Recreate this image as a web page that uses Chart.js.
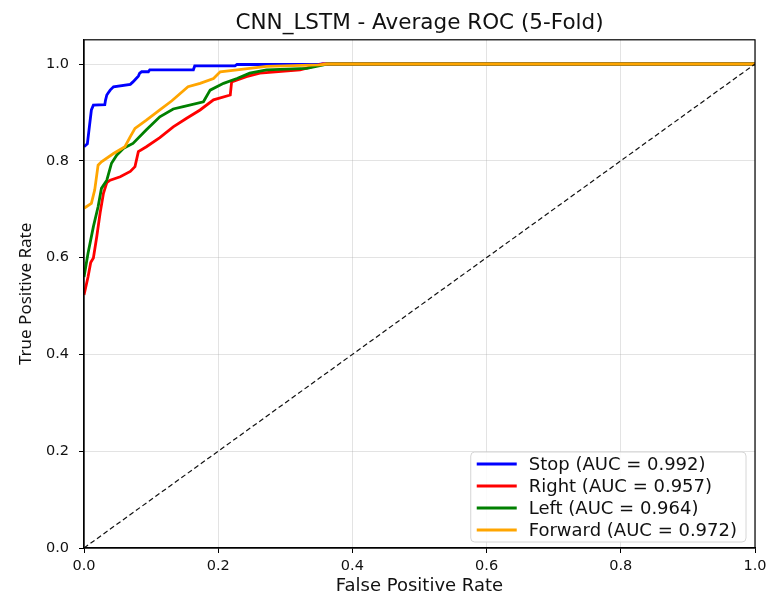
<!DOCTYPE html>
<html>
<head>
<meta charset="utf-8">
<script src="https://cdn.jsdelivr.net/npm/chart.js@4/dist/chart.umd.min.js"></script>
<style>
  html, body { margin: 0; padding: 0; background: #fff; }
  #wrap { width: 776px; height: 598px; position: relative; }
</style>
</head>
<body>
<div id="wrap"><canvas id="roc"></canvas></div>
<script>
// class names + AUC from the legend
const classNames = ['Stop', 'Right', 'Left', 'Forward'];
const aucValues = [0.992, 0.957, 0.964, 0.972];
const lineColors = ['#0000ff', '#ff0000', '#008000', '#ffa500'];

// mean ROC points
const stopFpr = [0, 0.005, 0.008, 0.011, 0.014, 0.031, 0.032, 0.034, 0.036, 0.039, 0.044, 0.069, 0.073, 0.081, 0.083, 0.086, 0.096, 0.098, 0.163, 0.165, 0.225, 0.228, 0.35, 0.355, 1.0];
const stopTpr = [0.829, 0.835, 0.87, 0.905, 0.915, 0.916, 0.925, 0.936, 0.94, 0.946, 0.953, 0.958, 0.963, 0.975, 0.981, 0.984, 0.984, 0.988, 0.988, 0.996, 0.996, 0.999, 0.999, 1.0, 1.0];

const rightFpr = [0, 0.006, 0.010, 0.014, 0.019, 0.024, 0.029, 0.034, 0.039, 0.054, 0.069, 0.076, 0.081, 0.093, 0.113, 0.133, 0.153, 0.173, 0.193, 0.218, 0.220, 0.242, 0.262, 0.322, 0.342, 0.356, 1.0];
const rightTpr = [0.523, 0.56, 0.59, 0.599, 0.643, 0.692, 0.733, 0.755, 0.760, 0.767, 0.778, 0.788, 0.819, 0.829, 0.848, 0.870, 0.888, 0.905, 0.926, 0.936, 0.963, 0.974, 0.981, 0.988, 0.995, 1.0, 1.0];

const leftFpr = [0, 0.006, 0.014, 0.021, 0.026, 0.034, 0.041, 0.049, 0.059, 0.073, 0.093, 0.113, 0.133, 0.148, 0.178, 0.188, 0.208, 0.228, 0.247, 0.272, 0.332, 0.357, 0.362, 1.0];
const leftTpr = [0.56, 0.609, 0.664, 0.705, 0.743, 0.760, 0.795, 0.812, 0.826, 0.836, 0.864, 0.891, 0.907, 0.912, 0.922, 0.946, 0.96, 0.97, 0.981, 0.988, 0.991, 0.998, 1.0, 1.0];

const forwardFpr = [0, 0.011, 0.016, 0.021, 0.026, 0.044, 0.061, 0.069, 0.076, 0.093, 0.113, 0.131, 0.155, 0.173, 0.193, 0.203, 0.228, 0.272, 0.352, 0.362, 1.0];
const forwardTpr = [0.702, 0.712, 0.74, 0.791, 0.798, 0.815, 0.829, 0.85, 0.867, 0.884, 0.905, 0.924, 0.953, 0.96, 0.97, 0.984, 0.988, 0.995, 0.998, 1.0, 1.0];

const chanceFpr = [0, 1];
const chanceTpr = [0, 1];

const axisTicks = [0, 0.2, 0.4, 0.6, 0.8, 1.0];

function toPoints(xs, ys) {
    return xs.map((x, i) => ({ x: x, y: ys[i] }));
}

const curves = [
    toPoints(stopFpr, stopTpr),
    toPoints(rightFpr, rightTpr),
    toPoints(leftFpr, leftTpr),
    toPoints(forwardFpr, forwardTpr)
];

const datasets = curves.map((pts, i) => ({
    label: classNames[i] + ' (AUC = ' + aucValues[i].toFixed(3) + ')',
    data: pts,
    borderColor: lineColors[i],
    backgroundColor: lineColors[i],
    borderWidth: 2.8,
    pointRadius: 0,
    tension: 0,
    fill: false,
    order: 10 - i
}));
datasets.push({
    label: 'chance',
    data: toPoints(chanceFpr, chanceTpr),
    borderColor: '#111',
    borderWidth: 1.2,
    borderDash: [5, 3],
    pointRadius: 0,
    fill: false,
    order: 0
});

const FONT = "'DejaVu Sans', sans-serif";

// frame on all four sides like matplotlib
const framePlugin = {
    id: 'frame',
    afterDatasetsDraw(chart) {
        const a = chart.chartArea, ctx = chart.ctx;
        ctx.save();
        ctx.strokeStyle = '#000';
        ctx.lineWidth = 1.2;
        ctx.strokeRect(a.left, a.top, a.right - a.left, a.bottom - a.top);
        ctx.restore();
    }
};

// legend box in the lower right corner of the plot
const boxLegend = {
    id: 'boxLegend',
    afterDraw(chart) {
        const a = chart.chartArea, ctx = chart.ctx;
        const items = chart.data.datasets.slice(0, classNames.length);
        ctx.save();
        ctx.font = '18px ' + FONT;
        let maxW = 0;
        items.forEach(d => { maxW = Math.max(maxW, ctx.measureText(d.label).width); });
        const rowH = 22;
        const w = 58 + maxW + 9;
        const h = rowH * items.length + 2;
        const x0 = a.right - 9 - w;
        const y0 = a.bottom - 6 - h;
        ctx.beginPath();
        ctx.roundRect(x0, y0, w, h, 4);
        ctx.fillStyle = 'rgba(255,255,255,0.85)';
        ctx.fill();
        ctx.strokeStyle = '#d6d6d6';
        ctx.lineWidth = 1;
        ctx.stroke();
        items.forEach((d, i) => {
            const cy = y0 + 12 + i * rowH;
            ctx.beginPath();
            ctx.moveTo(x0 + 6, cy);
            ctx.lineTo(x0 + 46, cy);
            ctx.strokeStyle = d.borderColor;
            ctx.lineWidth = 2.8;
            ctx.stroke();
            ctx.fillStyle = '#111';
            ctx.textBaseline = 'middle';
            ctx.fillText(d.label, x0 + 58, cy + 1);
        });
        ctx.restore();
    }
};

new Chart(document.getElementById('roc'), {
    type: 'line',
    data: { datasets: datasets },
    plugins: [framePlugin, boxLegend],
    options: {
        responsive: true,
        maintainAspectRatio: false,
        animation: false,
        layout: { padding: { left: 0, right: 21, top: 0, bottom: 0 } },
        plugins: {
            legend: { display: false },
            tooltip: { enabled: false },
            title: {
                display: true,
                fullSize: false,
                text: 'CNN_LSTM - Average ROC (5-Fold)',
                color: '#111',
                font: { family: FONT, size: 21.5, weight: 'normal', lineHeight: 1.2 },
                padding: { top: 11, bottom: 3 }
            }
        },
        scales: {
            x: {
                type: 'linear',
                min: 0,
                max: 1,
                afterFit(scale) { scale.height = 50; },
                afterBuildTicks(scale) { scale.ticks = axisTicks.map(v => ({ value: v })); },
                ticks: {
                    color: '#111',
                    font: { family: FONT, size: 14.5 },
                    padding: 5,
                    maxRotation: 0,
                    callback: v => v.toFixed(1)
                },
                grid: { color: 'rgba(176,176,176,0.35)', tickColor: '#000', tickLength: 5, lineWidth: 1 },
                border: { color: '#000', width: 1.2 },
                title: {
                    display: true,
                    text: 'False Positive Rate',
                    color: '#111',
                    font: { family: FONT, size: 18 },
                    padding: { top: 0, bottom: 1 }
                }
            },
            y: {
                type: 'linear',
                min: 0,
                max: 1.05,
                afterFit(scale) { scale.width = 84; },
                afterBuildTicks(scale) { scale.ticks = axisTicks.map(v => ({ value: v })); },
                ticks: {
                    color: '#111',
                    font: { family: FONT, size: 14.5 },
                    padding: 10,
                    callback: v => v.toFixed(1)
                },
                grid: { color: 'rgba(176,176,176,0.35)', tickColor: '#000', tickLength: 5, lineWidth: 1 },
                border: { color: '#000', width: 1.2 },
                title: {
                    display: true,
                    text: 'True Positive Rate',
                    color: '#111',
                    font: { family: "'Noto Sans', sans-serif", size: 17 },
                    padding: { top: 16, bottom: 0 }
                }
            }
        }
    }
});
</script>
</body>
</html>
